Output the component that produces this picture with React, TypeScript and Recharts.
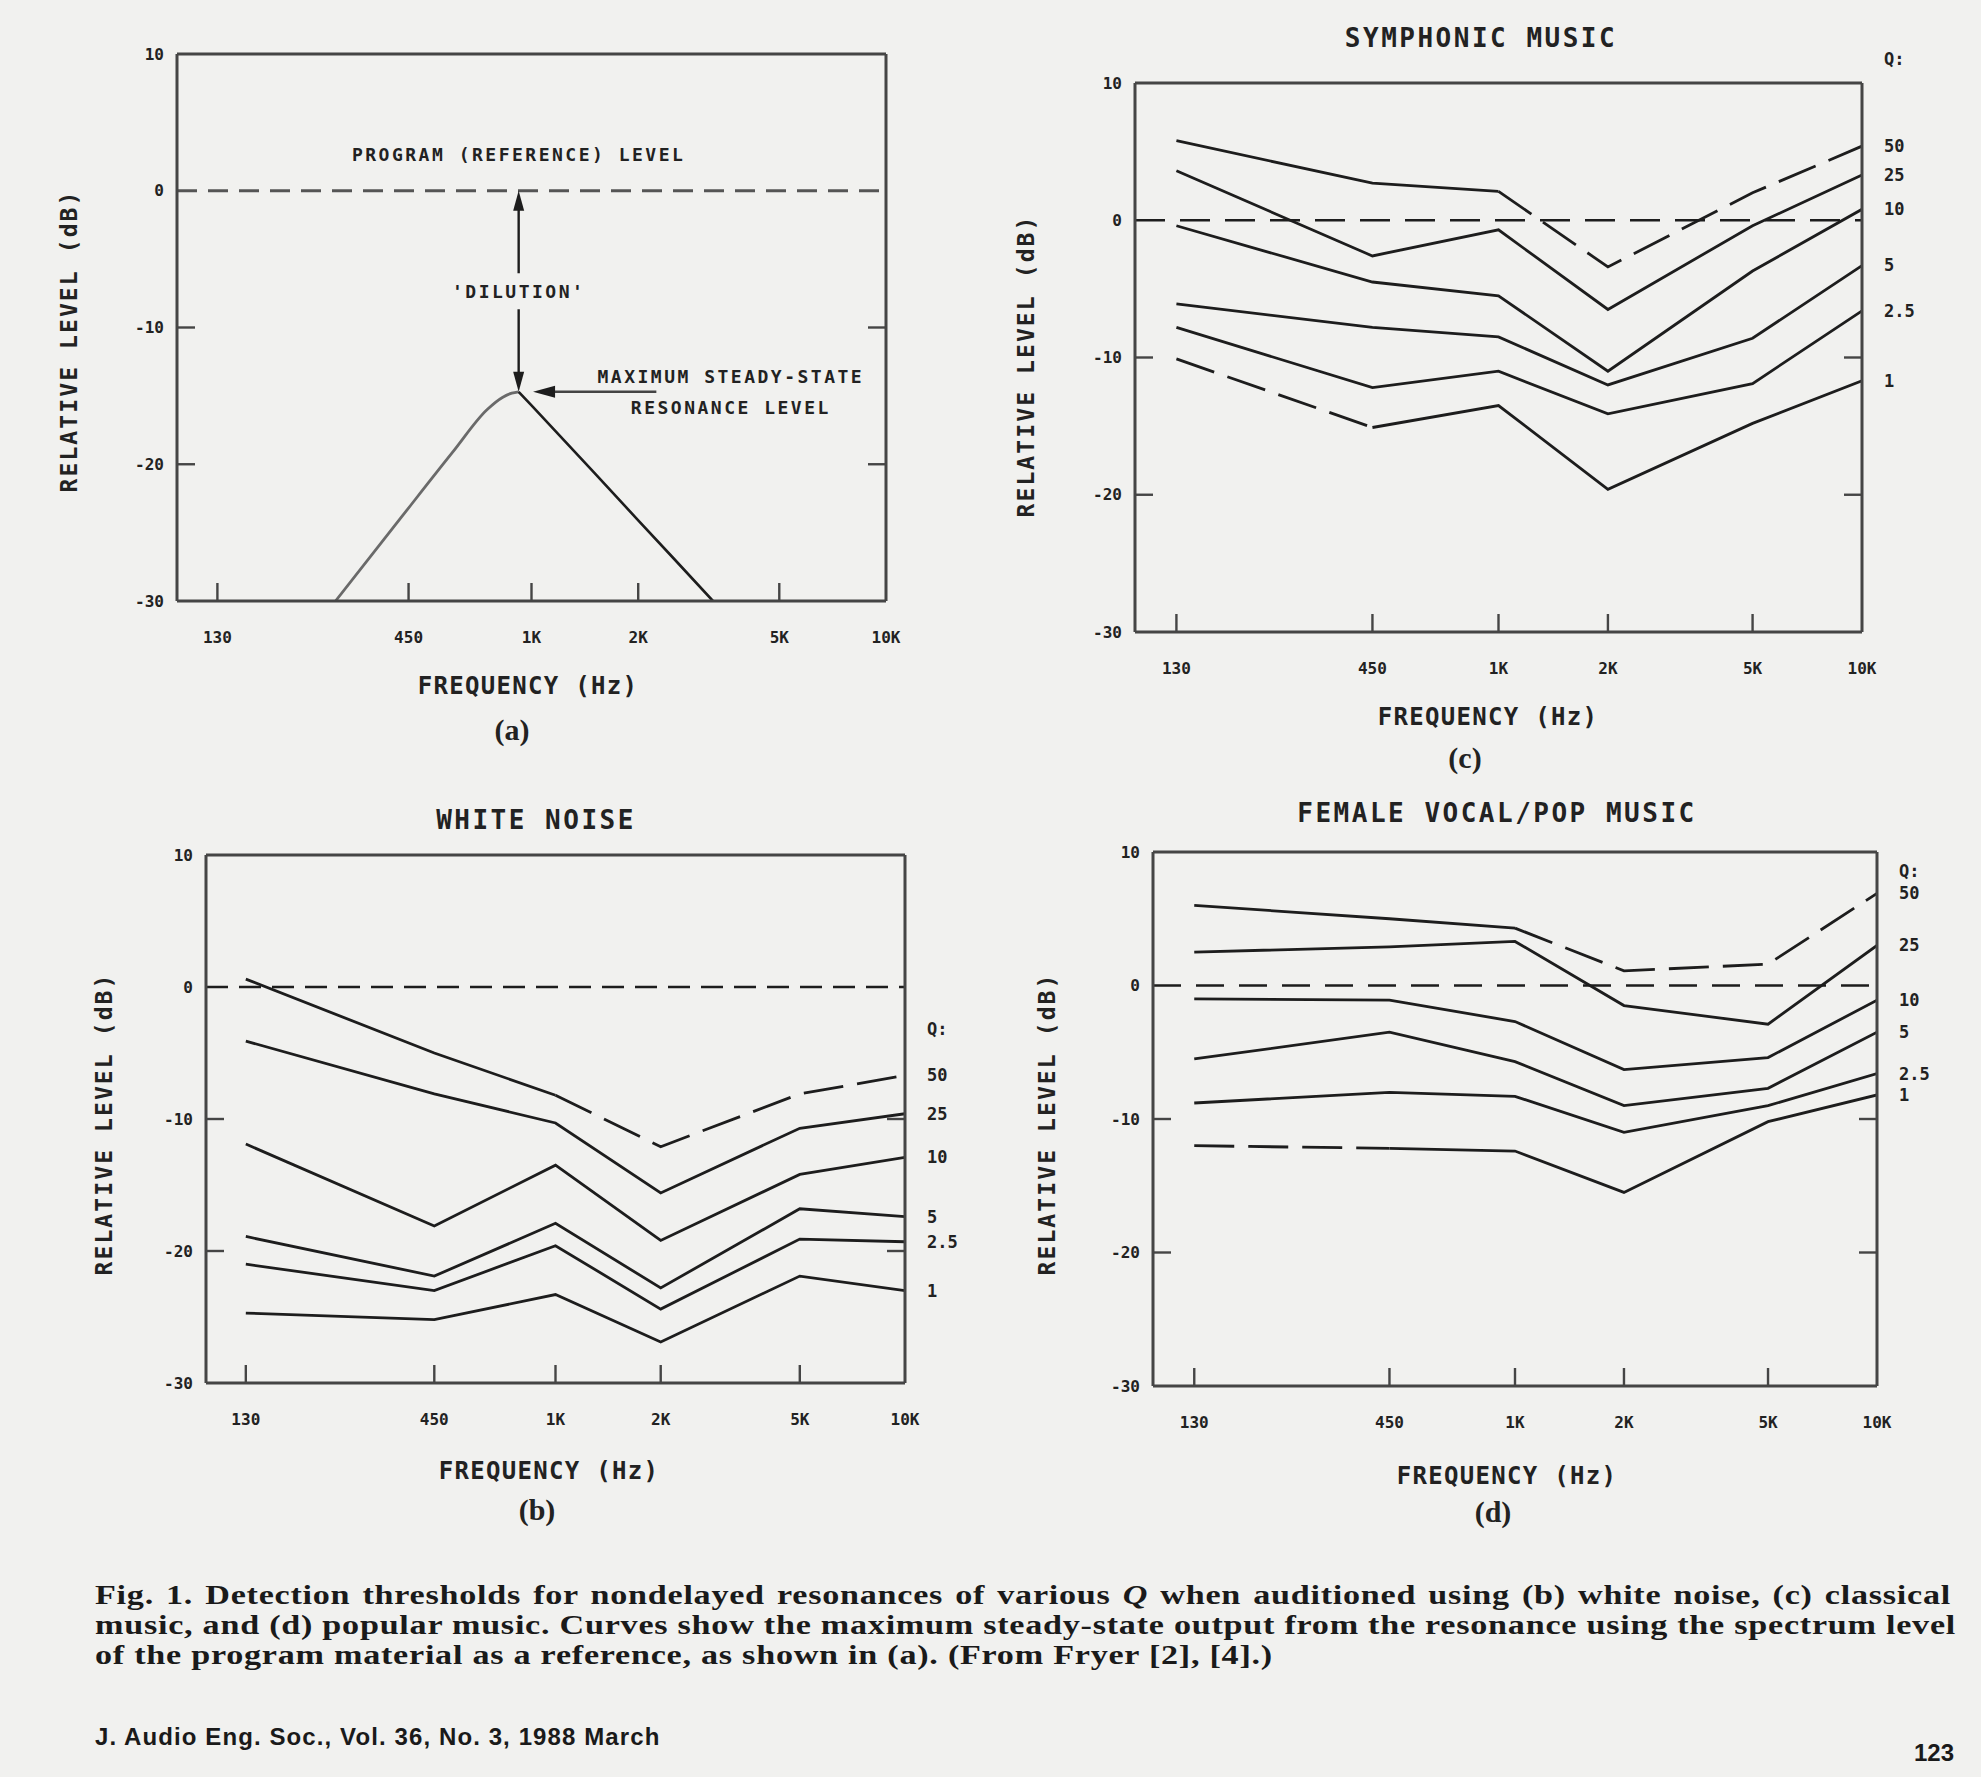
import React from "react";
import { LineChart, Line, XAxis, YAxis, ReferenceLine, ReferenceDot } from "recharts";

// frequency grid shared by panels (b), (c), (d)
const freqs = [130, 450, 1000, 2000, 5000, 10000];
const freqTickLabels = ["130", "450", "1K", "2K", "5K", "10K"];
const levelTicks = [10, 0, -10, -20, -30];
const minorLevelTicks = [-10, -20];

// (a) resonance response example
const resonanceFreqs = [280, 430, 600, 750, 830, 880, 920, 1000, 1500, 2000, 2500, 3250];
const resonanceLevel = [-30, -23.85, -19.1, -16.0, -15.1, -14.8, -14.7, -15.7, -20.6, -24.1, -26.8, -30];

// (b) white noise, one array per Q
const noiseQ50 = [0.6, -5.0, -8.2, -12.1, -8.1, -6.7];
const noiseQ25 = [-4.1, -8.1, -10.3, -15.6, -10.7, -9.6];
const noiseQ10 = [-11.9, -18.1, -13.5, -19.2, -14.2, -12.9];
const noiseQ5 = [-18.9, -21.9, -17.9, -22.8, -16.8, -17.4];
const noiseQ2_5 = [-21.0, -23.0, -19.6, -24.4, -19.1, -19.3];
const noiseQ1 = [-24.7, -25.2, -23.3, -26.9, -21.9, -23.0];

// (c) symphonic music
const symphQ50 = [5.8, 2.7, 2.1, -3.4, 2.0, 5.4];
const symphQ25 = [3.6, -2.6, -0.7, -6.5, -0.4, 3.3];
const symphQ10 = [-0.4, -4.5, -5.5, -11.0, -3.7, 0.8];
const symphQ5 = [-6.1, -7.8, -8.5, -12.0, -8.6, -3.3];
const symphQ2_5 = [-7.8, -12.2, -11.0, -14.1, -11.9, -6.6];
const symphQ1 = [-10.1, -15.1, -13.5, -19.6, -14.8, -11.7];

// (d) female vocal / pop music
const popQ50 = [6.0, 5.0, 4.3, 1.1, 1.6, 6.9];
const popQ25 = [2.5, 2.9, 3.3, -1.5, -2.9, 3.0];
const popQ10 = [-1.0, -1.1, -2.7, -6.3, -5.4, -1.1];
const popQ5 = [-5.5, -3.5, -5.7, -9.0, -7.7, -3.5];
const popQ2_5 = [-8.8, -8.0, -8.3, -11.0, -9.0, -6.6];
const popQ1 = [-12.0, -12.2, -12.4, -15.5, -10.2, -8.2];

const INK = "#1d1d1d";
const FRAME = "#454545";
const TEXT = "#222";
const PAGE = "#f1f1ef";
const MONO = '"DejaVu Sans Mono", "Liberation Mono", monospace';
const SERIF = '"Liberation Serif", "DejaVu Serif", serif';

const PAD_L = 110, PAD_R = 90, PAD_T = 40, PAD_B = 60;
const X_GAP = 31, Y_GAP = 13, TICK_LEN = 18;

const fmtFreq = (v: number) => freqTickLabels[freqs.indexOf(v)] ?? String(v);

function XTick(props: any) {
  const { x, y, payload } = props;
  const axisY = y - X_GAP;
  return (
    <g>
      {payload.value < 10000 && (
        <line x1={x} x2={x} y1={axisY} y2={axisY - TICK_LEN} stroke={FRAME} strokeWidth={2.4} />
      )}
      <text x={x} y={y} dy="0.71em" textAnchor="middle" fontFamily={MONO} fontWeight="bold" fontSize={16} fill={TEXT}>
        {fmtFreq(payload.value)}
      </text>
    </g>
  );
}

function YTick(props: any) {
  const { x, y, payload } = props;
  const axisX = x + Y_GAP;
  return (
    <g>
      {minorLevelTicks.includes(payload.value) && (
        <line x1={axisX} x2={axisX + 18} y1={y} y2={y} stroke={FRAME} strokeWidth={2.4} />
      )}
      <text x={x} y={y} dy="0.35em" textAnchor="end" fontFamily={MONO} fontWeight="bold" fontSize={16} fill={TEXT}>
        {payload.value}
      </text>
    </g>
  );
}

function RightTick(props: any) {
  const { x, y } = props;
  return <line x1={x - 18} x2={x} y1={y} y2={y} stroke={FRAME} strokeWidth={2.4} />;
}

const qLabel = (text: string) => (p: any) => (
  <text x={p.cx + 22} y={p.cy} dy="0.35em" fontFamily={MONO} fontWeight="bold" fontSize={17} fill={TEXT}>
    {text}
  </text>
);

const frameLine = { stroke: FRAME, strokeWidth: 3 };

function frameAxes() {
  return [
    <XAxis key="xb" dataKey="f" type="number" scale="log" domain={[100, 10000]} allowDataOverflow
      ticks={freqs} interval={0} height={PAD_B} tickSize={0} tickMargin={X_GAP} tickLine={false}
      axisLine={frameLine} tick={XTick} />,
    <XAxis key="xt" xAxisId="top" orientation="top" dataKey="f" type="number" scale="log"
      domain={[100, 10000]} allowDataOverflow height={PAD_T} tick={false} tickLine={false} axisLine={frameLine} />,
    <YAxis key="yl" type="number" domain={[-30, 10]} allowDataOverflow ticks={levelTicks} interval={0}
      width={PAD_L} tickSize={0} tickMargin={Y_GAP} tickLine={false} axisLine={frameLine} tick={YTick} />,
    <YAxis key="yr" yAxisId="right" orientation="right" type="number" domain={[-30, 10]} allowDataOverflow
      ticks={minorLevelTicks} interval={0} width={PAD_R} tickSize={0} tickMargin={0} tickLine={false}
      axisLine={frameLine} tick={RightTick} />,
  ];
}

type Series = { q: string; values: number[]; dashed?: [number, number] };
type Box = [number, number, number, number];

function QPanel({ box, series, zeroDash, qHeader }: { box: Box; series: Series[]; zeroDash: string; qHeader: number }) {
  const [l, t, r, b] = box;
  const rows = freqs.map((f, i) => {
    const row: Record<string, number | null> = { f };
    series.forEach((s, k) => {
      const last = s.values.length - 1;
      let solid = true;
      let dash = false;
      if (s.dashed) {
        const [a, z] = s.dashed;
        dash = i >= a && i <= z;
        solid = z === last ? i <= a : i >= z;
      }
      row[`s${k}`] = solid ? s.values[i] : null;
      row[`d${k}`] = dash ? s.values[i] : null;
    });
    return row;
  });
  return (
    <div style={{ position: "absolute", left: l - PAD_L, top: t - PAD_T }}>
      <LineChart width={r - l + PAD_L + PAD_R} height={b - t + PAD_T + PAD_B} data={rows}
        margin={{ top: 0, right: 0, bottom: 0, left: 0 }}>
        {frameAxes()}
        <ReferenceLine y={0} stroke={INK} strokeWidth={2.6} strokeDasharray={zeroDash} />
        {series.map((s, k) => (
          <Line key={`s${k}`} dataKey={`s${k}`} type="linear" stroke={INK} strokeWidth={2.8}
            dot={false} activeDot={false} isAnimationActive={false} connectNulls={false} />
        ))}
        {series.map((s, k) =>
          s.dashed ? (
            <Line key={`d${k}`} dataKey={`d${k}`} type="linear" stroke={INK} strokeWidth={2.8}
              strokeDasharray="40 14" dot={false} activeDot={false} isAnimationActive={false} connectNulls={false} />
          ) : null
        )}
        {series.map((s, k) => (
          <ReferenceDot key={`q${k}`} x={10000} y={s.values[s.values.length - 1]} r={0}
            ifOverflow="visible" shape={qLabel(s.q)} />
        ))}
        <ReferenceDot x={10000} y={qHeader} r={0} ifOverflow="visible" shape={qLabel("Q:")} />
      </LineChart>
    </div>
  );
}

const annot = (lines: string[]) => (p: any) => (
  <g>
    {lines.map((s, i) => (
      <text key={i} x={p.cx} y={p.cy + i * 31} dy="0.35em" textAnchor="middle" fontFamily={MONO}
        fontWeight="bold" fontSize={18} letterSpacing={2.5} fill={TEXT}>
        {s}
      </text>
    ))}
  </g>
);

function DilutionArrow(p: any) {
  const { x1, y1, y2 } = p;
  const top = Math.min(y1, y2);
  const bot = Math.max(y1, y2);
  const mid = (top + bot) / 2;
  const head = 20, hw = 5.5, gap = 18;
  return (
    <g>
      <line x1={x1} x2={x1} y1={top + head - 2} y2={mid - gap} stroke={INK} strokeWidth={2.4} />
      <line x1={x1} x2={x1} y1={mid + gap} y2={bot - head + 2} stroke={INK} strokeWidth={2.4} />
      <polygon points={`${x1},${top} ${x1 - hw},${top + head} ${x1 + hw},${top + head}`} fill={INK} />
      <polygon points={`${x1},${bot} ${x1 - hw},${bot - head} ${x1 + hw},${bot - head}`} fill={INK} />
      <text x={x1} y={mid} dy="0.35em" textAnchor="middle" fontFamily={MONO} fontWeight="bold"
        fontSize={18} letterSpacing={2.5} fill={TEXT}>
        'DILUTION'
      </text>
    </g>
  );
}

function PointerArrow(p: any) {
  const { x1, y1, x2, y2 } = p;
  const head = 22, hw = 6;
  return (
    <g>
      <line x1={x1} x2={x2 + head - 2} y1={y1} y2={y2} stroke="#444" strokeWidth={2.6} />
      <polygon points={`${x2},${y2} ${x2 + head},${y2 - hw} ${x2 + head},${y2 + hw}`} fill={INK} />
    </g>
  );
}

const peakLevel = Math.max(...resonanceLevel);
const peakIndex = resonanceLevel.indexOf(peakLevel);
const peakFreq = resonanceFreqs[peakIndex];

function ResonancePanel({ box }: { box: Box }) {
  const [l, t, r, b] = box;
  // rising flank photographs lighter than the falling one
  const rows = resonanceFreqs.map((f, i) => ({
    f,
    rise: i <= peakIndex ? resonanceLevel[i] : null,
    fall: i >= peakIndex ? resonanceLevel[i] : null,
  }));
  return (
    <div style={{ position: "absolute", left: l - PAD_L, top: t - PAD_T }}>
      <LineChart width={r - l + PAD_L + PAD_R} height={b - t + PAD_T + PAD_B} data={rows}
        margin={{ top: 0, right: 0, bottom: 0, left: 0 }}>
        {frameAxes()}
        <ReferenceLine y={0} stroke="#555" strokeWidth={3} strokeDasharray="20 11" />
        <Line dataKey="rise" type="monotone" stroke="#6a6a6a" strokeWidth={2.8} dot={false}
          activeDot={false} isAnimationActive={false} connectNulls={false} />
        <Line dataKey="fall" type="linear" stroke={INK} strokeWidth={2.6} dot={false}
          activeDot={false} isAnimationActive={false} connectNulls={false} />
        <ReferenceLine segment={[{ x: peakFreq, y: 0 }, { x: peakFreq, y: peakLevel }]} shape={DilutionArrow} />
        <ReferenceLine segment={[{ x: 2250, y: peakLevel }, { x: 1010, y: peakLevel }]} shape={PointerArrow} />
        <ReferenceDot x={peakFreq} y={2.6} r={0} shape={annot(["PROGRAM (REFERENCE) LEVEL"])} />
        <ReferenceDot x={3650} y={-13.6} r={0} shape={annot(["MAXIMUM STEADY-STATE", "RESONANCE LEVEL"])} />
      </LineChart>
    </div>
  );
}

function Label({ x, y, size, children, rotate = false, font = MONO, weight = "bold", spacing = 0 }: any) {
  return (
    <div style={{
      position: "absolute", left: x, top: y, whiteSpace: "nowrap", lineHeight: 1,
      transform: `translate(-50%, -50%)${rotate ? " rotate(-90deg)" : ""}`,
      fontFamily: font, fontWeight: weight, fontSize: size, letterSpacing: spacing, color: TEXT,
    }}>
      {children}
    </div>
  );
}

const A_BOX: Box = [177, 54, 886, 601];
const B_BOX: Box = [206, 855, 905, 1383];
const C_BOX: Box = [1135, 83, 1862, 632];
const D_BOX: Box = [1153, 852, 1877, 1386];

const CAPTION_STRETCH = 1.22;

export default function App() {
  const captionLine = {
    position: "absolute" as const, left: 95, width: 1856 / CAPTION_STRETCH, fontFamily: SERIF,
    fontWeight: "bold" as const, fontSize: 28, letterSpacing: 0.6, lineHeight: "30px", color: "#1a1a1a",
    whiteSpace: "nowrap" as const, transform: `scaleX(${CAPTION_STRETCH})`, transformOrigin: "0 0",
  };
  const footer = {
    position: "absolute" as const, fontFamily: '"Liberation Sans", Arial, sans-serif', fontWeight: "bold" as const,
    fontSize: 24, letterSpacing: 1.1, lineHeight: "24px", color: "#1a1a1a", whiteSpace: "nowrap" as const,
  };
  return (
    <div style={{ position: "absolute", left: 0, top: 0, width: 1981, height: 1777, background: PAGE, overflow: "hidden" }}>
      <ResonancePanel box={A_BOX} />
      <QPanel box={B_BOX} zeroDash="22 11" qHeader={-3.2} series={[
        { q: "50", values: noiseQ50, dashed: [2, 5] },
        { q: "25", values: noiseQ25 },
        { q: "10", values: noiseQ10 },
        { q: "5", values: noiseQ5 },
        { q: "2.5", values: noiseQ2_5 },
        { q: "1", values: noiseQ1 },
      ]} />
      <QPanel box={C_BOX} zeroDash="30 15" qHeader={11.75} series={[
        { q: "50", values: symphQ50, dashed: [2, 5] },
        { q: "25", values: symphQ25 },
        { q: "10", values: symphQ10 },
        { q: "5", values: symphQ5 },
        { q: "2.5", values: symphQ2_5 },
        { q: "1", values: symphQ1, dashed: [0, 1] },
      ]} />
      <QPanel box={D_BOX} zeroDash="28 15" qHeader={8.6} series={[
        { q: "50", values: popQ50, dashed: [2, 5] },
        { q: "25", values: popQ25 },
        { q: "10", values: popQ10 },
        { q: "5", values: popQ5 },
        { q: "2.5", values: popQ2_5 },
        { q: "1", values: popQ1, dashed: [0, 1] },
      ]} />

      <Label x={69} y={341} size={23} spacing={2.1} rotate>RELATIVE LEVEL (dB)</Label>
      <Label x={528} y={686} size={24} spacing={1.3}>FREQUENCY (Hz)</Label>
      <Label x={512} y={730} size={30} font={SERIF}>(a)</Label>

      <Label x={536} y={820} size={26} spacing={2.5}>WHITE NOISE</Label>
      <Label x={104} y={1124} size={23} spacing={2.1} rotate>RELATIVE LEVEL (dB)</Label>
      <Label x={549} y={1471} size={24} spacing={1.3}>FREQUENCY (Hz)</Label>
      <Label x={537} y={1510} size={30} font={SERIF}>(b)</Label>

      <Label x={1481} y={38} size={26} spacing={2.5}>SYMPHONIC MUSIC</Label>
      <Label x={1026} y={366} size={23} spacing={2.1} rotate>RELATIVE LEVEL (dB)</Label>
      <Label x={1488} y={717} size={24} spacing={1.3}>FREQUENCY (Hz)</Label>
      <Label x={1465} y={758} size={30} font={SERIF}>(c)</Label>

      <Label x={1497} y={813} size={26} spacing={2.5}>FEMALE VOCAL/POP MUSIC</Label>
      <Label x={1047} y={1124} size={23} spacing={2.1} rotate>RELATIVE LEVEL (dB)</Label>
      <Label x={1507} y={1476} size={24} spacing={1.3}>FREQUENCY (Hz)</Label>
      <Label x={1493} y={1512} size={30} font={SERIF}>(d)</Label>

      <div style={{ ...captionLine, top: 1580, textAlign: "justify", textAlignLast: "justify" }}>
        Fig. 1. Detection thresholds for nondelayed resonances of various <i>Q</i> when auditioned using (b) white noise, (c) classical
      </div>
      <div style={{ ...captionLine, top: 1610, textAlign: "justify", textAlignLast: "justify" }}>
        music, and (d) popular music. Curves show the maximum steady-state output from the resonance using the spectrum level
      </div>
      <div style={{ ...captionLine, top: 1640 }}>
        of the program material as a reference, as shown in (a). (From Fryer [2], [4].)
      </div>

      <div style={{ ...footer, left: 95, top: 1725 }}>J. Audio Eng. Soc., Vol. 36, No. 3, 1988 March</div>
      <div style={{ ...footer, right: 27, top: 1741, letterSpacing: 0 }}>123</div>
    </div>
  );
}
